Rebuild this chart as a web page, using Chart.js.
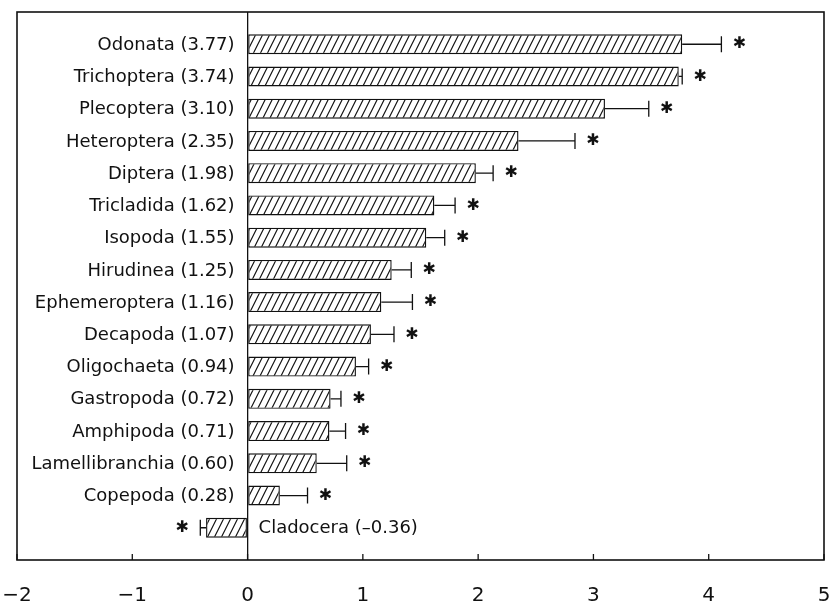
<!DOCTYPE html>
<html>
<head>
<meta charset="utf-8">
<script src="https://cdn.jsdelivr.net/npm/chart.js@4"></script>
<style>
  html, body { margin: 0; padding: 0; background: #fff; }
  #wrap { width: 833px; height: 610px; }
</style>
</head>
<body>
<div id="wrap"><canvas id="chart"></canvas></div>
<script>
// Taxa, top to bottom, with mean scores and error bar lengths
const taxa = ['Odonata', 'Trichoptera', 'Plecoptera', 'Heteroptera', 'Diptera', 'Tricladida',
  'Isopoda', 'Hirudinea', 'Ephemeroptera', 'Decapoda', 'Oligochaeta', 'Gastropoda',
  'Amphipoda', 'Lamellibranchia', 'Copepoda', 'Cladocera'];
const meanScores = [3.77, 3.74, 3.10, 2.35, 1.98, 1.62, 1.55, 1.25, 1.16, 1.07, 0.94, 0.72,
  0.71, 0.60, 0.28, -0.36];
const errors = [0.34, 0.03, 0.38, 0.49, 0.15, 0.18, 0.16, 0.17, 0.27, 0.20, 0.11, 0.09,
  0.14, 0.26, 0.24, 0.05];
const significant = [true, true, true, true, true, true, true, true, true, true, true, true,
  true, true, true, true];
const xTicks = [-2, -1, 0, 1, 2, 3, 4, 5];

const INK = '#111';
const LABEL_FONT = '18px "DejaVu Sans"';

const fmtNum = (v) => v.toFixed(2).replace('-', '\u2013');

// Diagonal "/" hatch fill for the bars
function makeHatch() {
    const w = 7, h = 14;
    const c = document.createElement('canvas');
    c.width = w; c.height = h;
    const g = c.getContext('2d');
    g.fillStyle = '#fff';
    g.fillRect(0, 0, w, h);
    g.strokeStyle = INK;
    g.lineWidth = 1.2;
    g.beginPath();
    g.moveTo(0, h); g.lineTo(w, 0);
    g.moveTo(-1, 2); g.lineTo(1, -2);
    g.moveTo(w - 1, h + 2); g.lineTo(w + 1, h - 2);
    g.stroke();
    return g.createPattern(c, 'repeat');
}

// Error bars, asterisks, in-plot taxon labels, inward ticks and frame
const decorations = {
    id: 'decorations',
    afterDatasetsDraw(chart) {
        const { ctx, chartArea: a, scales: { x, y } } = chart;
        const zero = x.getPixelForValue(0);
        ctx.save();
        ctx.strokeStyle = INK;
        ctx.fillStyle = INK;

        meanScores.forEach((m, i) => {
            const dir = m < 0 ? -1 : 1;
            const x0 = x.getPixelForValue(m);
            const x1 = x.getPixelForValue(m + dir * errors[i]);
            const yc = y.getPixelForValue(i);

            ctx.lineWidth = 1.3;
            ctx.beginPath();
            ctx.moveTo(x0, yc); ctx.lineTo(x1, yc);
            ctx.moveTo(x1, yc - 8); ctx.lineTo(x1, yc + 8);
            ctx.stroke();

            if (significant[i]) {
                ctx.font = '16px "DejaVu Sans"';
                ctx.textAlign = 'center';
                ctx.textBaseline = 'middle';
                ctx.fillText('\u2731', x1 + dir * 18, yc);
            }

            ctx.font = LABEL_FONT;
            ctx.textBaseline = 'middle';
            const text = `${taxa[i]} (${fmtNum(m)})`;
            if (m >= 0) {
                ctx.textAlign = 'right';
                ctx.fillText(text, zero - 13, yc + 1);
            } else {
                ctx.textAlign = 'left';
                ctx.fillText(text, zero + 11, yc + 1);
            }
        });

        // short ticks pointing up from the bottom axis
        ctx.lineWidth = 1.3;
        x.ticks.forEach(t => {
            const px = x.getPixelForValue(t.value);
            ctx.beginPath();
            ctx.moveTo(px, a.bottom);
            ctx.lineTo(px, a.bottom - 6);
            ctx.stroke();
        });

        ctx.lineWidth = 1.6;
        ctx.strokeRect(a.left, a.top, a.right - a.left, a.bottom - a.top);
        ctx.restore();
    }
};

const ctx = document.getElementById('chart').getContext('2d');
new Chart(ctx, {
    type: 'bar',
    data: {
        datasets: [{
            data: meanScores.map((v, i) => ({ x: v, y: i })),
            backgroundColor: makeHatch(),
            borderColor: INK,
            borderWidth: 1.4,
            borderSkipped: false,
            barPercentage: 0.62,
            categoryPercentage: 1
        }]
    },
    options: {
        indexAxis: 'y',
        responsive: true,
        maintainAspectRatio: false,
        animation: false,
        layout: { padding: { left: 17, right: 9, top: 12, bottom: 0 } },
        scales: {
            x: {
                type: 'linear',
                min: -2,
                max: 5,
                afterBuildTicks: (scale) => { scale.ticks = xTicks.map(v => ({ value: v })); },
                afterFit: (scale) => {
                    scale.height = 50;
                    scale.paddingLeft = 0;
                    scale.paddingRight = 0;
                },
                border: { display: false },
                grid: {
                    drawTicks: false,
                    color: (c) => (c.tick && c.tick.value === 0 ? INK : 'transparent'),
                    lineWidth: 1.3
                },
                ticks: {
                    padding: 24,
                    color: INK,
                    font: { family: '"DejaVu Sans"', size: 20 },
                    callback: (v) => String(v).replace('-', '\u2212')
                }
            },
            y: {
                type: 'linear',
                min: -1,
                max: 16,
                reverse: true,
                offset: false,
                display: false,
                grid: { display: false }
            }
        },
        plugins: {
            legend: { display: false },
            tooltip: { enabled: false }
        }
    },
    plugins: [decorations]
});
</script>
</body>
</html>
